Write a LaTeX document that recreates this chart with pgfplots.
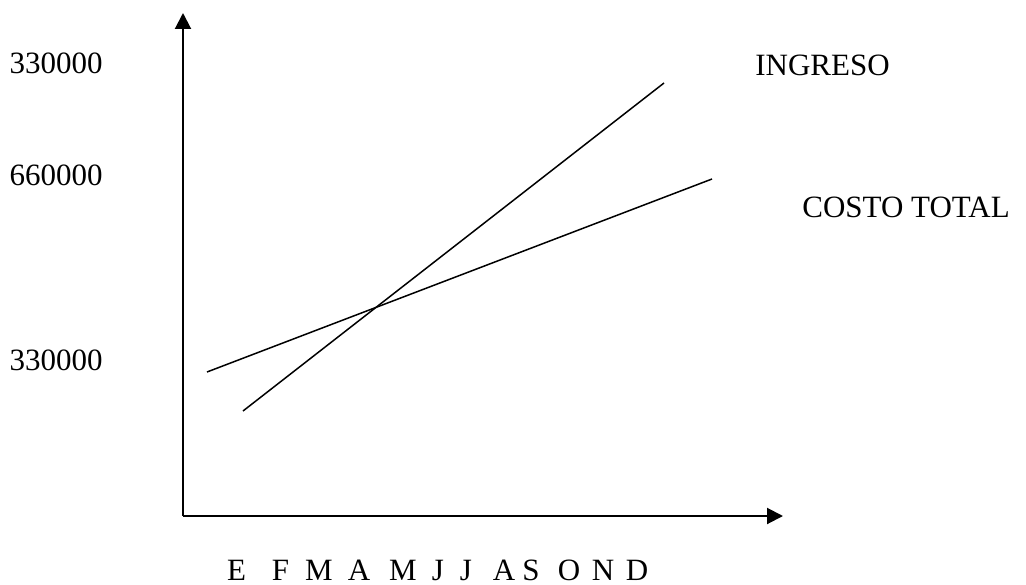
\documentclass[border=0pt]{standalone}
\usepackage{fontspec}
\setmainfont{Liberation Serif}
\usepackage{pgfplots}
\pgfplotsset{compat=1.18}
\usetikzlibrary{arrows.meta}

% 1 px of the reference = 0.5pt
\newcommand{\lbl}{\fontsize{15.5}{18}\selectfont}

\begin{document}
\begin{tikzpicture}
\useasboundingbox (0,0) rectangle (513pt,292pt);
\begin{axis}[
  at={(91.5pt,34pt)}, anchor=south west,
  x=0.5pt, y=0.5pt,
  xmin=0, xmax=600, ymin=0, ymax=503,
  axis lines=left,
  axis line style={line width=1pt, -{Triangle[length=8pt,width=8pt]}},
  major tick length=0pt,
  clip=false,
  xtick={53.5,97.5,136,176,220,255,283,321,348,386,420,454},
  xticklabels={E,F,M,A,M,J,J,A,S,O,N,D},
  xticklabel style={anchor=base, yshift=-32pt, inner sep=0pt},
  ytick={146,330,442},
  yticklabels={330000,660000,330000},
  yticklabel style={anchor=base east, xshift=-40pt, inner sep=0pt},
  ticklabel style={font=\lbl},
  /pgf/number format/assume math mode=true,
]
\addplot[black, line width=0.75pt] coordinates {(60,105) (481,433)};
\addplot[black, line width=0.75pt] coordinates {(24,144) (529,337)};
\node[anchor=base west, inner sep=0pt, font=\lbl] at (axis cs:572,440) {INGRESO};
\node[anchor=base west, inner sep=0pt, font=\lbl] at (axis cs:619,299) {COSTO TOTAL};
\end{axis}
\end{tikzpicture}
\end{document}
